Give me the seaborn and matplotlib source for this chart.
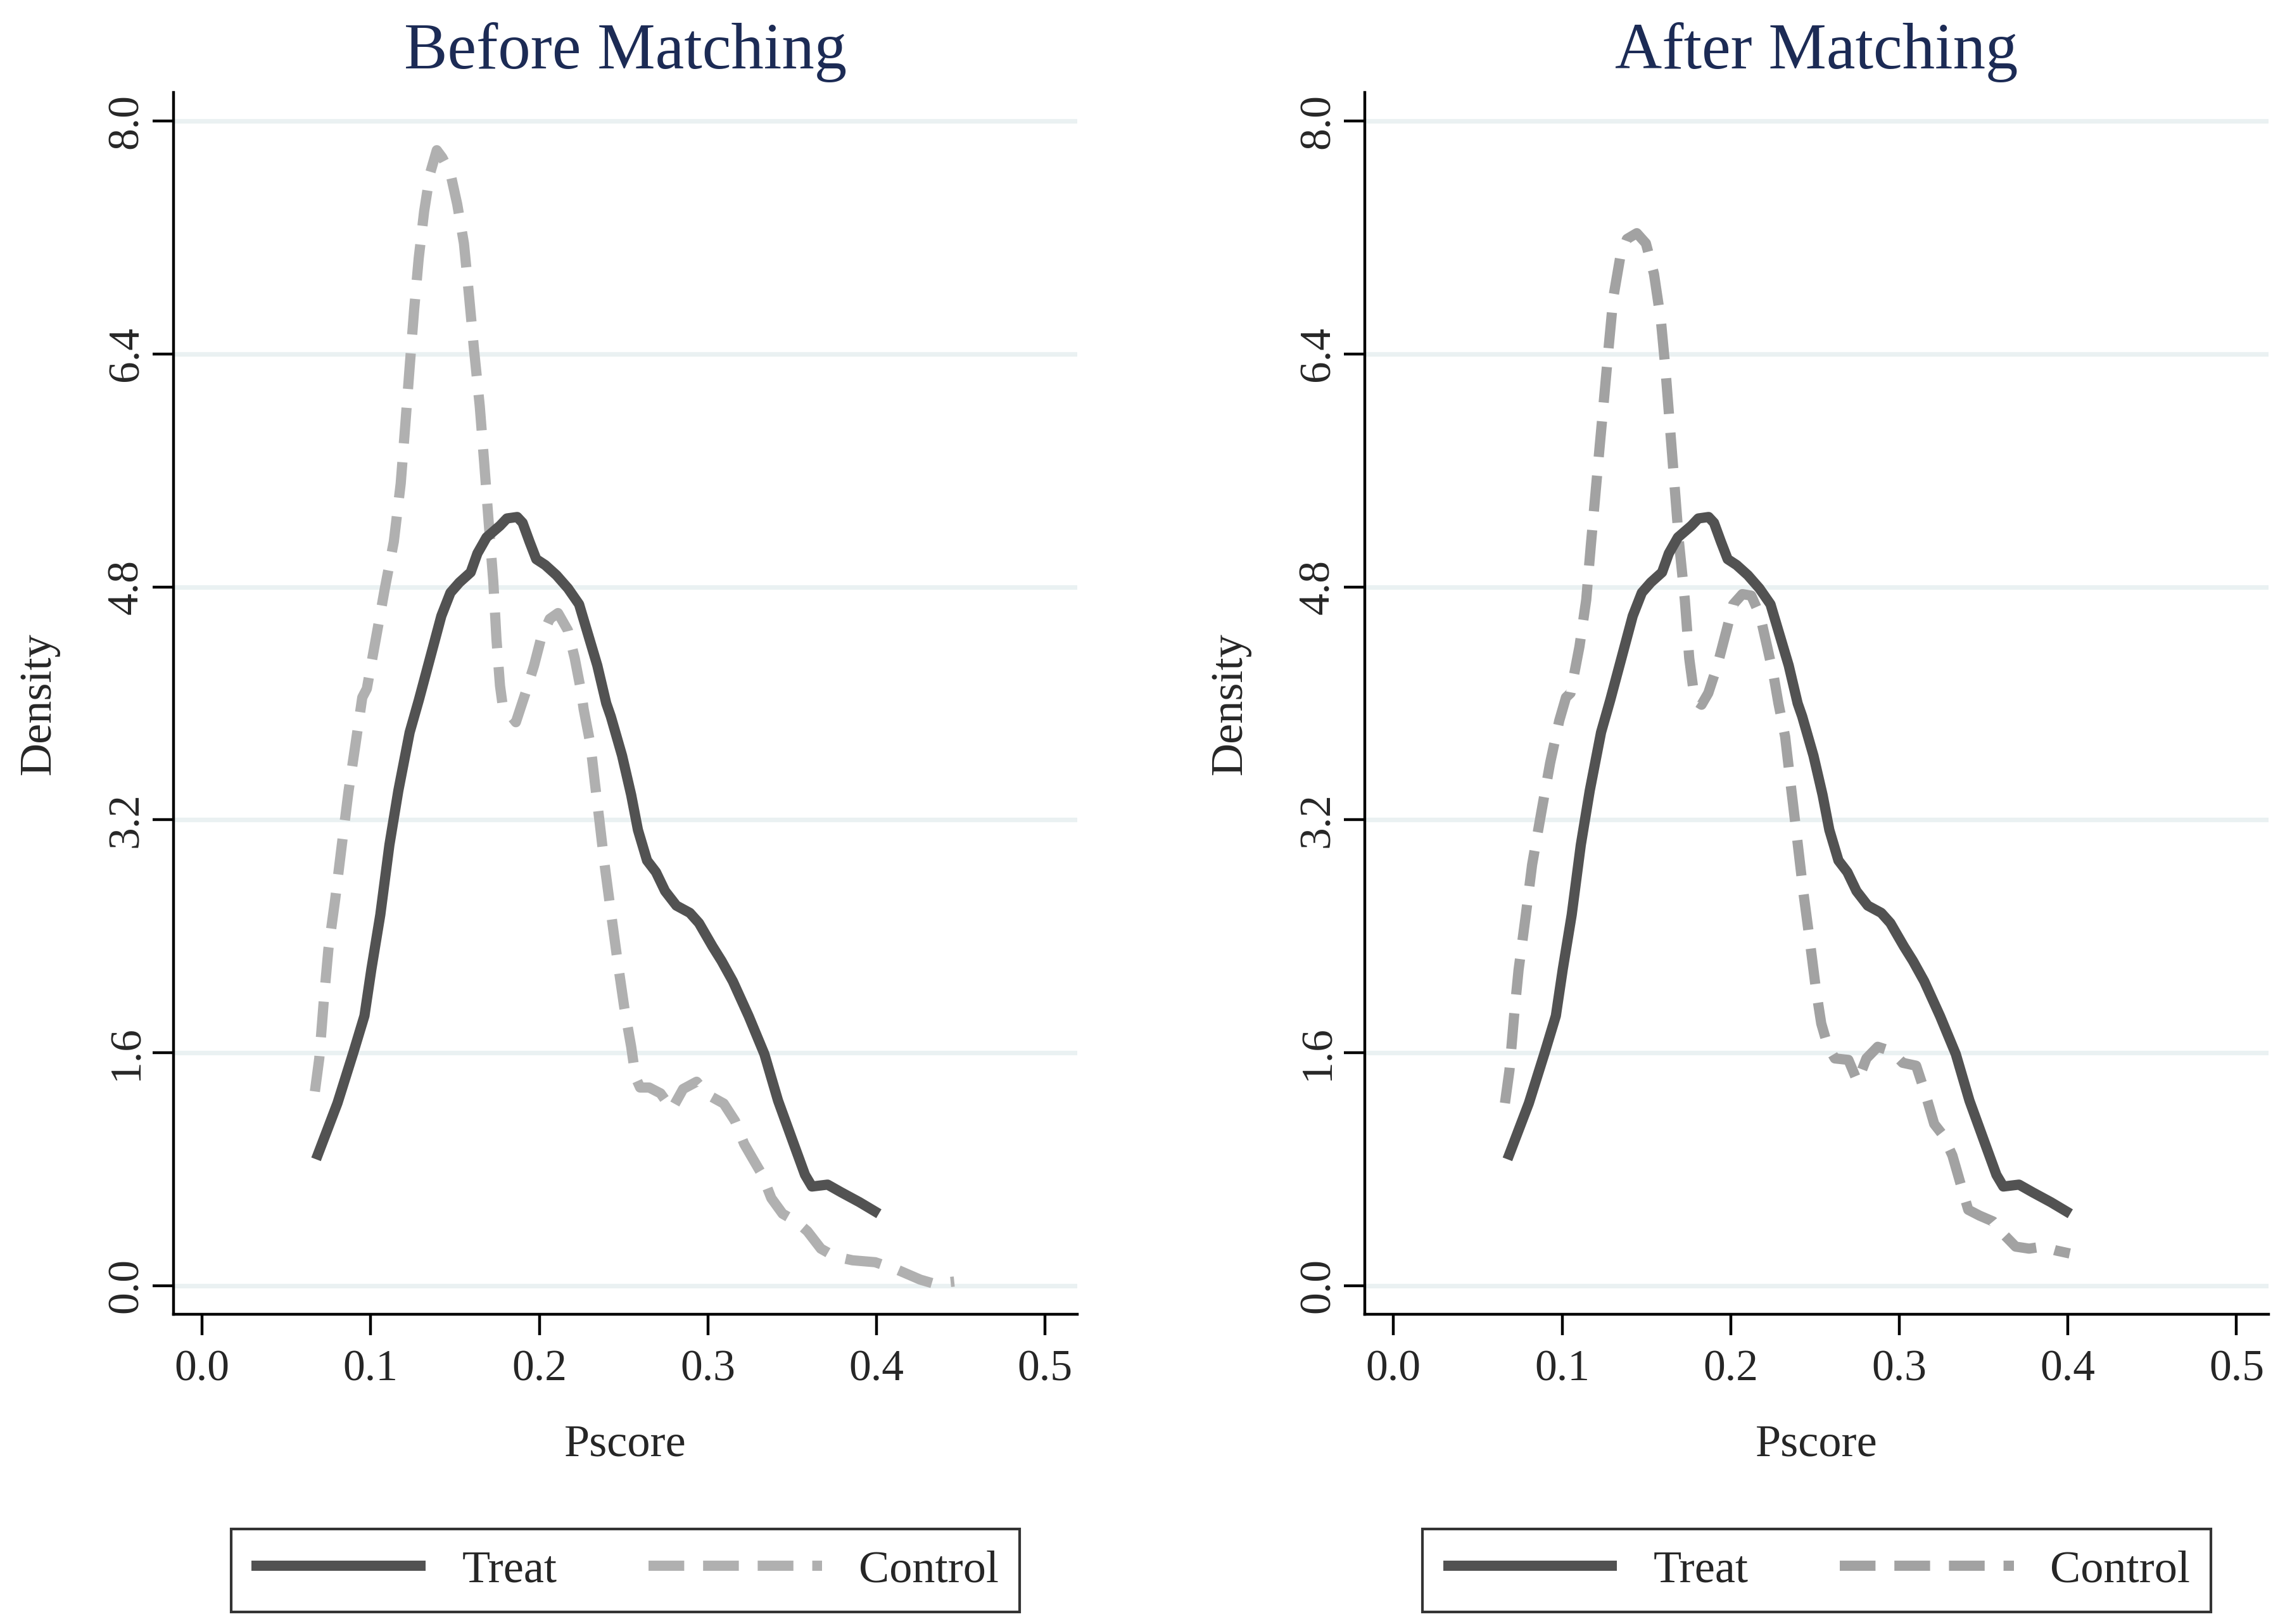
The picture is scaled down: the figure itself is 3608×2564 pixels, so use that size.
import numpy as np
import pandas as pd
import matplotlib
matplotlib.use("Agg")
import matplotlib.pyplot as plt
import seaborn as sns

# values
treat_x = [0.0676, 0.0803, 0.0897, 0.0963, 0.1004, 0.1057, 0.1111, 0.1164, 0.1231, 0.1285,
           0.1352, 0.1419, 0.1473, 0.1526, 0.1593, 0.1633, 0.1687, 0.1767, 0.1808, 0.1869,
           0.1901, 0.1942, 0.1982, 0.2035, 0.2102, 0.2170, 0.2236, 0.2290, 0.2344, 0.2397,
           0.2424, 0.2491, 0.2545, 0.2585, 0.2639, 0.2692, 0.2746, 0.2813, 0.2893, 0.2947,
           0.3027, 0.3081, 0.3148, 0.3242, 0.3335, 0.3416, 0.3509, 0.3576, 0.3617, 0.3710,
           0.3791, 0.3898, 0.4014]
treat_y = [0.867, 1.253, 1.600, 1.853, 2.173, 2.547, 3.027, 3.400, 3.800, 4.020,
           4.310, 4.600, 4.760, 4.830, 4.900, 5.030, 5.140, 5.220, 5.270, 5.280,
           5.240, 5.110, 4.990, 4.950, 4.880, 4.790, 4.680, 4.470, 4.260, 4.000,
           3.910, 3.640, 3.370, 3.130, 2.920, 2.840, 2.710, 2.610, 2.560, 2.490,
           2.330, 2.230, 2.090, 1.850, 1.590, 1.270, 0.973, 0.760, 0.680, 0.693,
           0.640, 0.573, 0.493]

ctrl_before_x = [0.0669, 0.0695, 0.0722, 0.0749, 0.0789, 0.0829, 0.0869, 0.0910, 0.0950, 0.0977,
                 0.1030, 0.1084, 0.1137, 0.1178, 0.1205, 0.1231, 0.1258, 0.1285, 0.1317, 0.1352,
                 0.1392, 0.1424, 0.1473, 0.1513, 0.1553, 0.1580, 0.1612, 0.1647, 0.1674, 0.1700,
                 0.1727, 0.1746, 0.1767, 0.1781, 0.1821, 0.1861, 0.1915, 0.1969, 0.2009, 0.2062,
                 0.2111, 0.2170, 0.2210, 0.2250, 0.2263, 0.2303, 0.2330, 0.2357, 0.2384, 0.2424,
                 0.2464, 0.2504, 0.2545, 0.2571, 0.2598, 0.2652, 0.2719, 0.2786, 0.2853, 0.2933,
                 0.3000, 0.3094, 0.3161, 0.3215, 0.3268, 0.3322, 0.3376, 0.3443, 0.3523, 0.3590,
                 0.3670, 0.3751, 0.3858, 0.3992, 0.4126, 0.4260, 0.4340, 0.4461]
ctrl_before_y = [1.333, 1.560, 1.960, 2.310, 2.650, 3.030, 3.400, 3.720, 4.040, 4.100,
                 4.440, 4.790, 5.110, 5.510, 5.910, 6.310, 6.710, 7.060, 7.380, 7.640,
                 7.800, 7.750, 7.640, 7.430, 7.160, 6.840, 6.440, 6.040, 5.640, 5.240,
                 4.840, 4.440, 4.120, 4.000, 3.930, 3.870, 4.060, 4.260, 4.440, 4.580,
                 4.620, 4.500, 4.310, 4.070, 3.960, 3.720, 3.450, 3.190, 2.920, 2.570,
                 2.230, 1.910, 1.640, 1.430, 1.360, 1.360, 1.320, 1.210, 1.350, 1.400,
                 1.310, 1.250, 1.130, 0.973, 0.867, 0.760, 0.600, 0.493, 0.440, 0.373,
                 0.253, 0.200, 0.173, 0.160, 0.107, 0.040, 0.013, 0.027]

ctrl_after_x = [0.0661, 0.0688, 0.0715, 0.0742, 0.0782, 0.0822, 0.0875, 0.0929, 0.0983, 0.1023,
                0.1050, 0.1103, 0.1143, 0.1170, 0.1197, 0.1224, 0.1251, 0.1278, 0.1304, 0.1344,
                0.1385, 0.1443, 0.1497, 0.1545, 0.1586, 0.1612, 0.1639, 0.1666, 0.1693, 0.1728,
                0.1754, 0.1787, 0.1827, 0.1867, 0.1921, 0.1975, 0.2015, 0.2069, 0.2122, 0.2175,
                0.2216, 0.2256, 0.2283, 0.2323, 0.2355, 0.2390, 0.2430, 0.2470, 0.2505, 0.2537,
                0.2577, 0.2618, 0.2698, 0.2752, 0.2805, 0.2872, 0.2953, 0.3020, 0.3100, 0.3154,
                0.3207, 0.3261, 0.3315, 0.3368, 0.3409, 0.3476, 0.3556, 0.3623, 0.3690, 0.3770,
                0.3850, 0.3931, 0.4011]
ctrl_after_y = [1.253, 1.480, 1.850, 2.170, 2.520, 2.890, 3.240, 3.590, 3.880, 4.040,
                4.070, 4.390, 4.710, 5.080, 5.430, 5.780, 6.120, 6.470, 6.790, 7.060,
                7.190, 7.230, 7.160, 6.950, 6.630, 6.310, 5.910, 5.510, 5.110, 4.710,
                4.310, 4.020, 3.990, 4.070, 4.260, 4.500, 4.680, 4.750, 4.740, 4.600,
                4.390, 4.180, 4.000, 3.770, 3.450, 3.110, 2.710, 2.360, 2.040, 1.800,
                1.640, 1.560, 1.550, 1.400, 1.560, 1.640, 1.610, 1.530, 1.510, 1.320,
                1.110, 1.030, 0.893, 0.680, 0.520, 0.480, 0.440, 0.347, 0.267, 0.253,
                0.267, 0.240, 0.220]

panel_titles = ["Before Matching", "After Matching"]
x_ticks = [0.0, 0.1, 0.2, 0.3, 0.4, 0.5]
y_ticks = [0.0, 1.6, 3.2, 4.8, 6.4, 8.0]

sns.set_style("white")
plt.rcParams['font.family'] = ['Liberation Serif', 'DejaVu Serif']

fig = plt.figure(figsize=(18.04, 12.82), dpi=200)
ax_left = fig.add_axes([0.0759, 0.1907, 0.3955, 0.7523])
ax_right = fig.add_axes([0.5973, 0.1907, 0.3955, 0.7523])

treat_df = pd.DataFrame({"Pscore": treat_x, "Density": treat_y})
controls = [pd.DataFrame({"Pscore": ctrl_before_x, "Density": ctrl_before_y}),
            pd.DataFrame({"Pscore": ctrl_after_x, "Density": ctrl_after_y})]
ctrl_colors = ["#b0b0b0", "#a2a2a2"]

for ax, title, ctrl_df, ccol in zip([ax_left, ax_right], panel_titles, controls, ctrl_colors):
    for yt in y_ticks:
        ax.axhline(yt, color="#eaf1f2", lw=2.6, zorder=0)
    sns.lineplot(data=treat_df, x="Pscore", y="Density", ax=ax, estimator=None,
                 color="#525252", lw=5.8, label="Treat", solid_capstyle="butt", zorder=3)
    sns.lineplot(data=ctrl_df, x="Pscore", y="Density", ax=ax, estimator=None,
                 color=ccol, lw=5.8, label="Control", linestyle=(0, (3.5, 1.85)),
                 dash_capstyle="butt", zorder=2)

    ax.set_xlim(-0.017, 0.519)
    ax.set_ylim(-0.198, 8.196)
    ax.set_xticks(x_ticks)
    ax.set_xticklabels([f"{v:.1f}" for v in x_ticks])
    ax.set_yticks(y_ticks)
    ax.set_yticklabels([f"{v:.1f}" for v in y_ticks], rotation=90, va="center")
    ax.tick_params(axis="both", which="major", direction="out", length=12, width=1.6,
                   color="black", labelsize=25, bottom=True, left=True)
    ax.tick_params(axis="x", pad=8)
    ax.tick_params(axis="y", pad=3)

    for side in ["top", "right"]:
        ax.spines[side].set_visible(False)
    for side in ["left", "bottom"]:
        ax.spines[side].set_color("black")
        ax.spines[side].set_linewidth(1.6)

    ax.set_xlabel("Pscore", fontsize=26)
    ax.set_ylabel("Density", fontsize=26)
    ax.xaxis.set_label_coords(0.5, -0.09)
    ax.yaxis.set_label_coords(-0.126, 0.5)

    center_x = ax.get_position().x0 + ax.get_position().width / 2
    fig.text(center_x, 0.968, title, ha="center", va="center", fontsize=37, color="#1c2b55")

    leg = ax.legend(loc="lower center", bbox_to_anchor=(center_x, 0.0074),
                    bbox_transform=fig.transFigure, ncol=2, fontsize=26, frameon=True,
                    fancybox=False, shadow=False, handlelength=3.8, handletextpad=0.8,
                    columnspacing=2.0, borderpad=0.45, borderaxespad=0)
    leg.get_frame().set_edgecolor("black")
    leg.get_frame().set_linewidth(1.5)
    leg.get_frame().set_facecolor("white")

fig.savefig("out.png", dpi=200, facecolor="white")
